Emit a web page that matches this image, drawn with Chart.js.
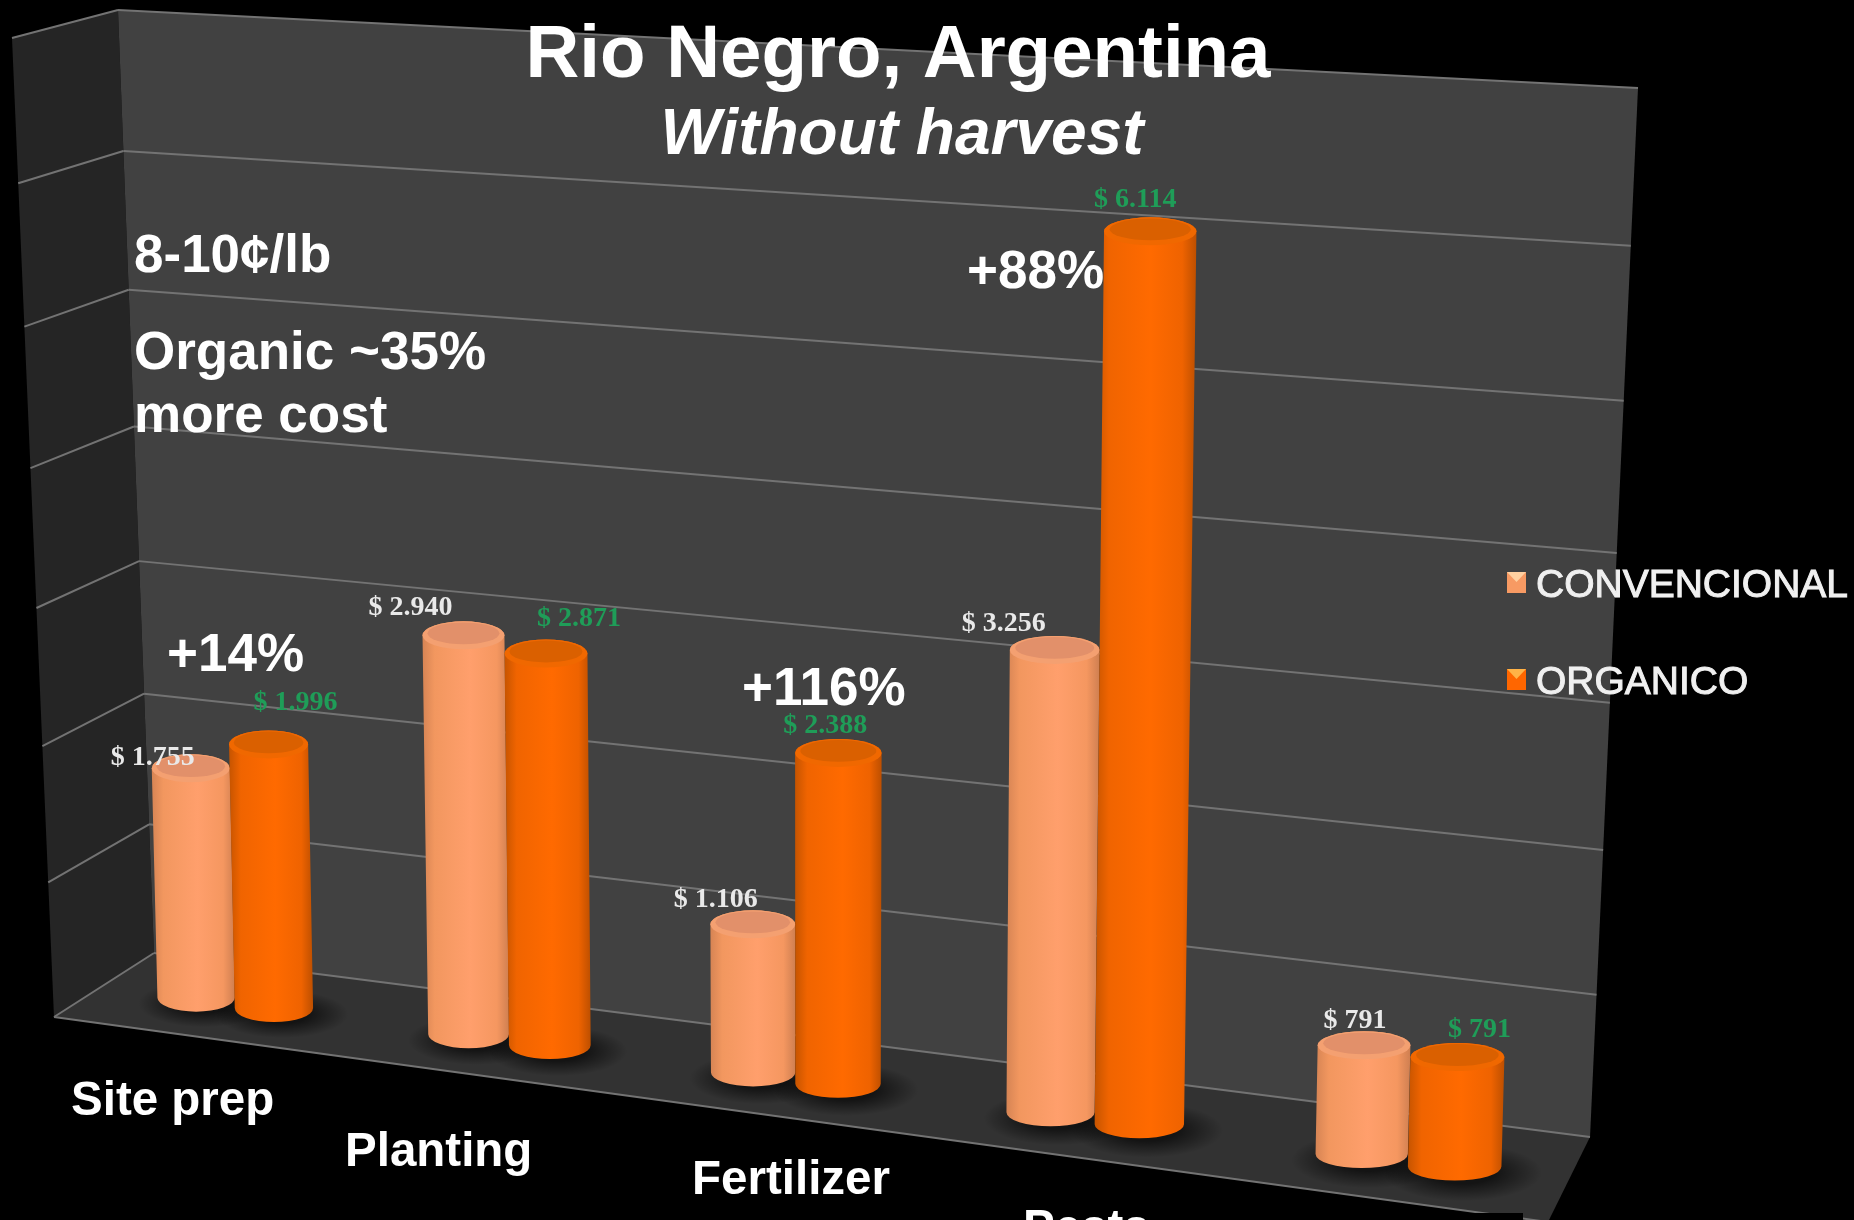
<!DOCTYPE html>
<html>
<head>
<meta charset="utf-8">
<title>Rio Negro, Argentina</title>
<style>
  html, body { margin: 0; padding: 0; background: #000; overflow: hidden; }
  canvas { display: block; }
</style>
<script src="https://cdn.jsdelivr.net/npm/chart.js@4/dist/chart.umd.js"></script>
</head>
<body>
<canvas id="myChart" width="1854" height="1220"></canvas>
<script>
// chart values
const categories = ['Site prep', 'Planting', 'Fertilizer', 'Pests', ''];
const convencional = [1755, 2940, 1106, 3256, 791];
const organico = [1996, 2871, 2388, 6114, 791];
const seriesNames = ['CONVENCIONAL', 'ORGANICO'];
const axisMax = 7000;
const axisStep = 1000;

// corners of the walls and floor on the canvas, clockwise from top left
const backWall = [[118, 10], [1638, 88], [1590, 1137], [154, 953]];
const sideWall = [[12, 38], [118, 10], [154, 953], [54, 1017]];
const floorPlane = [[154, 953], [1590, 1137], [1548, 1222], [54, 1017]];
// plane the columns stand in
const frontPlane = [[77, 42], [1600, 130], [1570, 1196], [102, 999]];

const peachStyle = {
  stops: ['#d68454', '#f2975f', '#ff9f6c', '#f59760', '#cf7f51'],
  rim: '#f4a071', cap: '#e2906a', label: '#e9e9e9'
};
const orangeStyle = {
  stops: ['#c65400', '#f06400', '#ff6a00', '#ef6300', '#bd4f00'],
  rim: '#f06800', cap: '#da6000', label: '#1f9d58'
};

// value label shift from the column top centre
const labelShift = [
  [[-38, -3], [-53, -20], [-37, -17], [-51, -19], [-9, -17]],
  [[27, -34], [33, -27], [-13, -20], [-15, -24], [22, -20]]
];

// 4 point perspective map, unit square -> quad
function quadMap(q) {
  const [p0, p1, p2, p3] = q;
  const dx1 = p1[0] - p2[0], dx2 = p3[0] - p2[0], sx = p0[0] - p1[0] + p2[0] - p3[0];
  const dy1 = p1[1] - p2[1], dy2 = p3[1] - p2[1], sy = p0[1] - p1[1] + p2[1] - p3[1];
  const den = dx1 * dy2 - dx2 * dy1;
  const g = (sx * dy2 - dx2 * sy) / den;
  const h = (dx1 * sy - sx * dy1) / den;
  const a = p1[0] - p0[0] + g * p1[0], b = p3[0] - p0[0] + h * p3[0], c = p0[0];
  const d = p1[1] - p0[1] + g * p1[1], e = p3[1] - p0[1] + h * p3[1], f = p0[1];
  return (u, v) => {
    const w = g * u + h * v + 1;
    return [(a * u + b * v + c) / w, (d * u + e * v + f) / w];
  };
}

const mapBack = quadMap(backWall);
const mapSide = quadMap(sideWall);
const mapFront = quadMap(frontPlane);

function fillQuad(ctx, q, color) {
  ctx.beginPath();
  q.forEach((p, i) => i ? ctx.lineTo(p[0], p[1]) : ctx.moveTo(p[0], p[1]));
  ctx.closePath();
  ctx.fillStyle = color;
  ctx.fill();
}

function strokeLine(ctx, a, b) {
  ctx.beginPath();
  ctx.moveTo(a[0], a[1]);
  ctx.lineTo(b[0], b[1]);
  ctx.stroke();
}

// chart pixel -> position in the column plane
function toFront(chart, px, py) {
  const area = chart.chartArea;
  return mapFront((px - area.left) / area.width, (py - area.top) / area.height);
}

const capLift = 8; // the cap sits a little above the value height

function columnBox(chart, bar) {
  const half = bar.width / 2;
  const lt = toFront(chart, bar.x - half, bar.y);
  const rt = toFront(chart, bar.x + half, bar.y);
  const lb = toFront(chart, bar.x - half, bar.base);
  const rb = toFront(chart, bar.x + half, bar.base);
  lt[1] -= capLift;
  rt[1] -= capLift;
  const ry = 14;
  return { lt, rt, lb, rb, ry };
}

function drawShadow(ctx, box) {
  const cx = (box.lb[0] + box.rb[0]) / 2 + 8;
  const cy = (box.lb[1] + box.rb[1]) / 2 - 8;
  const rx = (box.rb[0] - box.lb[0]) * 0.85;
  ctx.save();
  ctx.translate(cx, cy);
  ctx.scale(1, 0.36);
  const grad = ctx.createRadialGradient(0, 0, rx * 0.4, 0, 0, rx);
  grad.addColorStop(0, 'rgba(0,0,0,0.6)');
  grad.addColorStop(1, 'rgba(0,0,0,0)');
  ctx.fillStyle = grad;
  ctx.beginPath();
  ctx.arc(0, 0, rx, 0, Math.PI * 2);
  ctx.fill();
  ctx.restore();
}

function drawColumn(ctx, box, style) {
  const { lt, rt, lb, rb, ry } = box;
  const topX = (lt[0] + rt[0]) / 2, topY = (lt[1] + rt[1]) / 2;
  const baseX = (lb[0] + rb[0]) / 2, baseY = (lb[1] + rb[1]) / 2 - ry;
  const rxTop = (rt[0] - lt[0]) / 2, rxBase = (rb[0] - lb[0]) / 2;

  const grad = ctx.createLinearGradient(Math.min(lt[0], lb[0]), 0, Math.max(rt[0], rb[0]), 0);
  [0, 0.14, 0.55, 0.86, 1].forEach((s, i) => grad.addColorStop(s, style.stops[i]));

  ctx.beginPath();
  ctx.moveTo(topX - rxTop, topY);
  ctx.lineTo(baseX - rxBase, baseY);
  ctx.ellipse(baseX, baseY, rxBase, ry, 0, Math.PI, 0, true);
  ctx.lineTo(topX + rxTop, topY);
  ctx.ellipse(topX, topY, rxTop, ry, 0, 0, Math.PI, true);
  ctx.closePath();
  ctx.fillStyle = grad;
  ctx.fill();

  ctx.beginPath();
  ctx.ellipse(topX, topY, rxTop, ry, 0, 0, Math.PI * 2);
  ctx.fillStyle = style.rim;
  ctx.fill();
  ctx.beginPath();
  ctx.ellipse(topX, topY - 2, rxTop * 0.88, ry * 0.78, 0, 0, Math.PI * 2);
  ctx.fillStyle = style.cap;
  ctx.fill();
}

const scenePlugin = {
  id: 'scene',
  beforeDraw(chart) {
    const ctx = chart.ctx;
    const yScale = chart.scales.y;
    const area = chart.chartArea;
    ctx.save();
    ctx.fillStyle = '#000';
    ctx.fillRect(0, 0, chart.width, chart.height);

    fillQuad(ctx, sideWall, '#252525');
    fillQuad(ctx, backWall, '#414141');
    fillQuad(ctx, floorPlane, '#323232');

    // grid lines wrap from the side wall on to the back wall
    ctx.strokeStyle = '#737373';
    ctx.lineWidth = 2;
    yScale.ticks.forEach(tick => {
      const v = (yScale.getPixelForValue(tick.value) - area.top) / area.height;
      const vBack = mapBack(0, v);
      strokeLine(ctx, mapSide(0, v), vBack);
      strokeLine(ctx, vBack, mapBack(1, v));
    });
    // front edge of the floor
    strokeLine(ctx, floorPlane[3], floorPlane[2]);

    ctx.fillStyle = '#000';
    ctx.fillRect(0, 1213, 1523, 7);
    ctx.restore();
  },
  beforeDatasetsDraw(chart) {
    const ctx = chart.ctx;
    const styles = [peachStyle, orangeStyle];
    ctx.save();
    chart.data.datasets.forEach((ds, i) => {
      chart.getDatasetMeta(i).data.forEach(bar => drawShadow(ctx, columnBox(chart, bar)));
    });
    chart.data.datasets.forEach((ds, i) => {
      chart.getDatasetMeta(i).data.forEach(bar => drawColumn(ctx, columnBox(chart, bar), styles[i]));
    });
    ctx.restore();
    return false; // columns replace the flat bars
  },
  afterDraw(chart) {
    const ctx = chart.ctx;
    const styles = [peachStyle, orangeStyle];
    ctx.save();
    ctx.textBaseline = 'alphabetic';

    // value labels, a bit soft
    ctx.filter = 'blur(0.7px)';
    ctx.font = 'bold 28px "Liberation Serif"';
    ctx.textAlign = 'center';
    chart.data.datasets.forEach((ds, i) => {
      ctx.fillStyle = styles[i].label;
      chart.getDatasetMeta(i).data.forEach((bar, j) => {
        const box = columnBox(chart, bar);
        const shift = labelShift[i][j];
        const x = (box.lt[0] + box.rt[0]) / 2 + shift[0];
        const y = (box.lt[1] + box.rt[1]) / 2 + shift[1];
        ctx.fillText('$ ' + ds.data[j].toLocaleString('de-DE'), x, y);
      });
    });
    ctx.filter = 'none';

    ctx.fillStyle = '#fff';
    ctx.font = 'bold 74.5px "Liberation Sans"';
    ctx.fillText('Rio Negro, Argentina', 898, 77);
    ctx.font = 'italic bold 64px "Liberation Sans"';
    ctx.fillText('Without harvest', 902, 154);

    ctx.textAlign = 'left';
    ctx.font = 'bold 53px "Liberation Sans"';
    ctx.fillText('8-10¢/lb', 134, 272);
    ctx.fillText('Organic ~35%', 134, 369);
    ctx.fillText('more cost', 134, 432);
    ctx.fillText('+14%', 167, 671);
    ctx.fillText('+116%', 742, 705);
    ctx.fillText('+88%', 967, 288);

    // category names
    const catX = [71, 345, 692, 1023];
    const catY = [1115, 1166, 1194, 1243];
    ctx.font = 'bold 47.5px "Liberation Sans"';
    chart.scales.x.getLabels().forEach((name, i) => {
      if (name) ctx.fillText(name, catX[i], catY[i]);
    });

    // legend
    const legendY = [597, 694];
    chart.data.datasets.forEach((ds, i) => {
      const y = legendY[i];
      const top = y - 25;
      ctx.fillStyle = i ? '#ff6600' : '#f79a63';
      ctx.fillRect(1507, top, 19, 21);
      ctx.fillStyle = i ? '#ffb347' : '#ffd0a0';
      ctx.beginPath();
      ctx.moveTo(1507, top);
      ctx.lineTo(1526, top);
      ctx.lineTo(1516.5, top + 10);
      ctx.closePath();
      ctx.fill();
      ctx.filter = 'blur(0.6px)';
      ctx.fillStyle = '#f0f0f0';
      ctx.strokeStyle = '#f0f0f0';
      ctx.lineWidth = 1;
      ctx.font = '39px "Liberation Sans"';
      ctx.fillText(ds.label, 1536, y);
      ctx.strokeText(ds.label, 1536, y);
      ctx.filter = 'none';
    });
    ctx.restore();
  }
};

const myChart = new Chart(document.getElementById('myChart').getContext('2d'), {
  type: 'bar',
  data: {
    labels: categories,
    datasets: [
      { label: seriesNames[0], data: convencional, backgroundColor: '#f79a63', categoryPercentage: 0.58, barPercentage: 1 },
      { label: seriesNames[1], data: organico, backgroundColor: '#ff6600', categoryPercentage: 0.58, barPercentage: 1 }
    ]
  },
  options: {
    responsive: false,
    animation: false,
    layout: { padding: 0 },
    plugins: { legend: { display: false }, title: { display: false }, tooltip: { enabled: false } },
    scales: {
      x: { display: false },
      y: { display: false, min: 0, max: axisMax, ticks: { stepSize: axisStep } }
    }
  },
  plugins: [scenePlugin]
});
</script>
</body>
</html>
